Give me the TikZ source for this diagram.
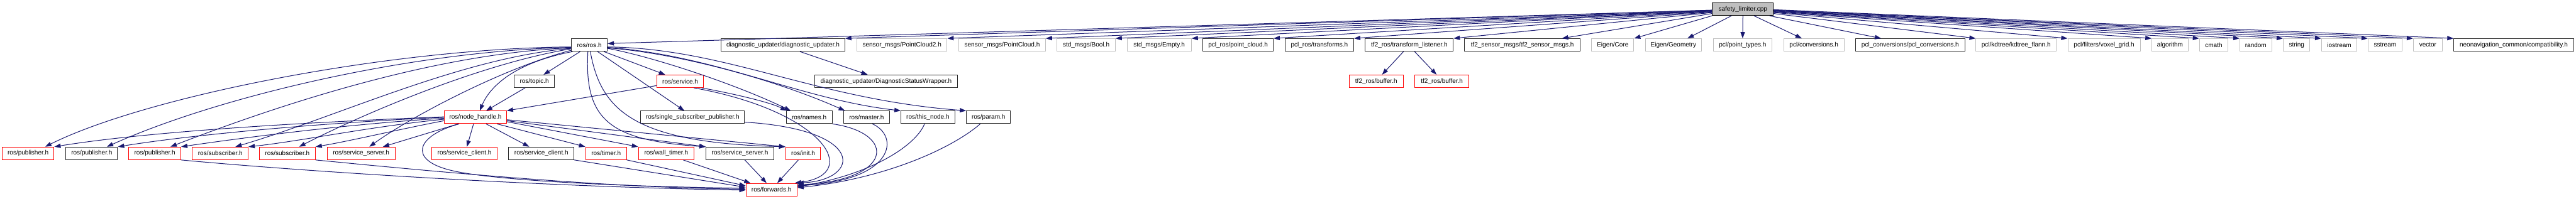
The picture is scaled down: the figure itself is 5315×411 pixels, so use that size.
\documentclass[tikz,border=0pt]{standalone}
\usepackage{fontspec}
\setmainfont{Liberation Sans}
\usetikzlibrary{arrows.meta,calc}
\definecolor{edgeblue}{HTML}{191970}
\definecolor{greyseventyfive}{HTML}{BFBFBF}
\newcommand\mknode[6]{\node[#1,minimum width=#2pt] (#3) at (#4,#5) {#6};}
\begin{document}
\begin{tikzpicture}[x=1pt,y=-1pt,
  box/.style={rectangle, line width=1.3pt, minimum height=26pt, inner sep=0pt, font=\fontsize{13}{15}\selectfont, fill=white},
  docbox/.style={box, draw=black!85},
  extbox/.style={box, draw=greyseventyfive},
  redbox/.style={box, draw=red},
  rootbox/.style={box, draw=black, fill=greyseventyfive},
  e/.style={draw=edgeblue, line width=1.3pt, -{Triangle[length=13pt,width=9pt]}},
]
\useasboundingbox (0,0) rectangle (5315,411);
% row 0
\mknode{rootbox}{126}{root}{3596}{19}{safety\_limiter.cpp}
% row 1
\mknode{docbox}{74}{rosh}{1216}{93}{ros/ros.h}
\mknode{docbox}{255}{diag}{1615.5}{93}{diagnostic\_updater/diagnostic\_updater.h}
\mknode{extbox}{186}{pctwo}{1861}{93}{sensor\_msgs/PointCloud2.h}
\mknode{extbox}{178.5}{pc}{2067.75}{93}{sensor\_msgs/PointCloud.h}
\mknode{extbox}{120}{boolh}{2241}{93}{std\_msgs/Bool.h}
\mknode{extbox}{132.5}{empty}{2391.75}{93}{std\_msgs/Empty.h}
\mknode{docbox}{145}{pclpc}{2554.5}{93}{pcl\_ros/point\_cloud.h}
\mknode{docbox}{141.5}{pcltf}{2722.25}{93}{pcl\_ros/transforms.h}
\mknode{docbox}{181.5}{tfl}{2907.75}{93}{tf2\_ros/transform\_listener.h}
\mknode{docbox}{238}{tftwosm}{3141}{93}{tf2\_sensor\_msgs/tf2\_sensor\_msgs.h}
\mknode{extbox}{87}{ecore}{3327.5}{93}{Eigen/Core}
\mknode{extbox}{116.5}{egeo}{3452.75}{93}{Eigen/Geometry}
\mknode{extbox}{121}{ptypes}{3595.5}{93}{pcl/point\_types.h}
\mknode{extbox}{125}{pconv}{3742.5}{93}{pcl/conversions.h}
\mknode{docbox}{225.5}{pclconv}{3941.25}{93}{pcl\_conversions/pcl\_conversions.h}
\mknode{extbox}{165.5}{kdtree}{4159.75}{93}{pcl/kdtree/kdtree\_flann.h}
\mknode{extbox}{149.5}{voxel}{4341.25}{93}{pcl/filters/voxel\_grid.h}
\mknode{extbox}{74.5}{algo}{4477.25}{93}{algorithm}
\mknode{extbox}{59}{cmathh}{4567.5}{93}{cmath}
\mknode{extbox}{65.5}{randomh}{4654.25}{93}{random}
\mknode{extbox}{55}{stringh}{4738.5}{93}{string}
\mknode{extbox}{73}{iostreamh}{4826.5}{93}{iostream}
\mknode{extbox}{70}{sstreamh}{4921}{93}{sstream}
\mknode{extbox}{59.5}{vectorh}{5009.25}{93}{vector}
\mknode{docbox}{247}{neo}{5186.5}{93}{neonavigation\_common/compatibility.h}
% row 2
\mknode{docbox}{83}{topic}{1102.5}{168}{ros/topic.h}
\mknode{redbox}{97}{service}{1403.5}{168}{ros/service.h}
\mknode{docbox}{294.5}{dsw}{1828.25}{168}{diagnostic\_updater/DiagnosticStatusWrapper.h}
\mknode{redbox}{111}{bufa}{2839.5}{168}{tf2\_ros/buffer.h}
\mknode{redbox}{111}{bufb}{2975}{168}{tf2\_ros/buffer.h}
% row 3
\mknode{redbox}{128}{nh}{981}{242.5}{ros/node\_handle.h}
\mknode{docbox}{214}{ssp}{1429}{242.5}{ros/single\_subscriber\_publisher.h}
\mknode{docbox}{95}{names}{1669.5}{242.5}{ros/names.h}
\mknode{docbox}{94}{master}{1788}{242.5}{ros/master.h}
\mknode{docbox}{111}{thisnode}{1914.5}{242.5}{ros/this\_node.h}
\mknode{docbox}{91}{param}{2039.5}{242.5}{ros/param.h}
% row 4
\mknode{redbox}{107}{pubA}{58}{317}{ros/publisher.h}
\mknode{docbox}{106.6}{pubB}{189.3}{317}{ros/publisher.h}
\mknode{redbox}{107}{pubC}{319.5}{317}{ros/publisher.h}
\mknode{redbox}{115}{subA}{454.5}{317}{ros/subscriber.h}
\mknode{redbox}{115.5}{subB}{592.75}{317}{ros/subscriber.h}
\mknode{redbox}{140}{ssA}{745}{317}{ros/service\_server.h}
\mknode{redbox}{134.7}{scA}{958.4}{317}{ros/service\_client.h}
\mknode{docbox}{134.6}{scB}{1117}{317}{ros/service\_client.h}
\mknode{redbox}{84.4}{timer}{1250.5}{317}{ros/timer.h}
\mknode{redbox}{114.7}{wtimer}{1374.6}{317}{ros/wall\_timer.h}
\mknode{docbox}{140}{ssB}{1526.7}{317}{ros/service\_server.h}
\mknode{redbox}{72.3}{init}{1657.2}{317}{ros/init.h}
% row 5
\mknode{redbox}{105.3}{fwd}{1591.7}{392}{ros/forwards.h}

% ---- edges from the root
\draw[e] ($(root.west)+(0,2)$) -- ($(rosh.east)+(0,-3)$);
\draw[e] ($(root.west)+(0,2)$) -- (diag.north east);
\draw[e] ($(root.west)+(0,3)$) -- (pctwo.north east);
\draw[e] ($(root.west)+(0,3)$) -- (pc.north east);
\draw[e] ($(root.west)+(0,4)$) -- (boolh.north east);
\draw[e] ($(root.west)+(0,4)$) -- (empty.north east);
\draw[e] ($(root.west)+(0,5)$) -- (pclpc.north east);
\draw[e] ($(root.west)+(0,6)$) -- (pcltf.north east);
\draw[e] ($(root.west)+(0,7)$) -- (tfl.north east);
\draw[e] ($(root.west)+(0,9)$) -- ($(tftwosm.north east)+(-38,0)$);
\draw[e] (root.south west) -- (ecore.north east);
\draw[e] ($(root.south west)+(40,0)$) -- ($(egeo.north east)+(-30,0)$);
\draw[e] (root.south) -- (ptypes.north);
\draw[e] ($(root.south)+(23,0)$) -- ($(pconv.north)+(-25,0)$);
\draw[e] ($(root.south)+(55,0)$) -- ($(pclconv.north)+(-60,0)$);
\draw[e] ($(root.east)+(0,9)$) -- (kdtree.north west);
\draw[e] ($(root.east)+(0,7)$) -- (voxel.north west);
\draw[e] ($(root.east)+(0,6)$) -- (algo.north west);
\draw[e] ($(root.east)+(0,5)$) -- (cmathh.north west);
\draw[e] ($(root.east)+(0,4)$) -- (randomh.north west);
\draw[e] ($(root.east)+(0,3)$) -- (stringh.north west);
\draw[e] ($(root.east)+(0,3)$) -- (iostreamh.north west);
\draw[e] ($(root.east)+(0,2)$) -- (sstreamh.north west);
\draw[e] ($(root.east)+(0,2)$) -- (vectorh.north west);
\draw[e] ($(root.east)+(0,1)$) -- (neo.north west);

% ---- second-level
\draw[e] ($(diag.south)+(35,0)$) -- ($(dsw.north)+(-38,0)$);
\draw[e] ($(tfl.south)+(-12,0)$) -- ($(bufa.north)+(12,0)$);
\draw[e] ($(tfl.south)+(11,0)$) -- ($(bufb.north)+(-11,0)$);

% ---- from ros/ros.h
\draw[e] ($(rosh.west)+(0,4)$) .. controls (800,100) and (300,200) .. ($(pubA.north east)+(-19,0)$);
\draw[e] ($(rosh.west)+(0,5)$) .. controls (850,105) and (450,200) .. ($(pubB.north east)+(-22.6,0)$);
\draw[e] ($(rosh.west)+(0,6)$) .. controls (900,110) and (580,215) .. ($(pubC.north east)+(-22,0)$);
\draw[e] ($(rosh.west)+(0,7)$) .. controls (950,120) and (700,240) .. ($(subA.north east)+(-27,0)$);
\draw[e] ($(rosh.west)+(0,8)$) .. controls (1000,130) and (760,230) .. ($(subB.north east)+(-34,0)$);
\draw[e] ($(rosh.west)+(0,11)$) .. controls (1040,140) and (850,240) .. ($(ssA.north)+(17,0)$);
\draw[e] ($(rosh.south west)+(3,0)$) .. controls (1060,130) and (1010,180) .. ($(nh.north)+(9,0)$);
\draw[e] ($(rosh.south)+(-19,0)$) -- ($(topic.north)+(19,0)$);
\draw[e] ($(rosh.south)+(30,0)$) -- ($(service.north)+(-31,0)$);
\draw[e] ($(rosh.south)+(17,0)$) -- ($(ssp.north)+(-17,0)$);
\draw[e] ($(rosh.east)+(0,7)$) .. controls (1350,118) and (1520,175) .. ($(names.north west)+(10,0)$);
\draw[e] ($(rosh.east)+(0,6)$) .. controls (1400,110) and (1600,165) .. ($(master.north west)+(3,0)$);
\draw[e] ($(rosh.east)+(0,5)$) .. controls (1480,115) and (1650,205) .. (thisnode.north west);
\draw[e] ($(rosh.east)+(0,4)$) .. controls (1500,100) and (1680,205) .. (param.north west);
\draw[e] ($(rosh.south)+(-3,0)$) .. controls (1205,250) and (1260,290) .. (ssB.north west);
\draw[e] ($(rosh.south)+(2,0)$) .. controls (1240,230) and (1310,295) .. (init.north west);

% ---- ros/topic.h, ros/service.h
\draw[e] ($(topic.south)+(-19,0)$) -- ($(nh.north)+(22,0)$);
\draw[e] ($(service.west)+(0,9)$) -- (nh.north east);
\draw[e] ($(service.south east)+(-5,0)$) .. controls (1520,195) and (1590,212) .. ($(names.north west)+(2,0)$);
\draw[e] ($(service.south east)+(-21,0)$) .. controls (1700,230) and (1780,360) .. ($(fwd.north east)+(-5,0)$);

% ---- from ros/node_handle.h
\draw[e] ($(nh.west)+(0,-1)$) .. controls (700,250) and (330,268) .. (pubA.north east);
\draw[e] (nh.west) .. controls (700,252) and (420,275) .. (pubB.north east);
\draw[e] ($(nh.west)+(0,2)$) .. controls (720,256) and (500,285) .. (pubC.north east);
\draw[e] ($(nh.west)+(0,4)$) .. controls (760,262) and (620,292) .. (subA.north east);
\draw[e] ($(nh.west)+(0,7)$) .. controls (820,268) and (720,292) .. (subB.north east);
\draw[e] ($(nh.south west)+(29,0)$) -- ($(ssA.north)+(45,0)$);
\draw[e] ($(nh.south)+(-4,0)$) -- ($(scA.north)+(5,0)$);
\draw[e] ($(nh.south)+(22,0)$) -- ($(scB.north)+(-25,0)$);
\draw[e] ($(nh.south east)+(-20,0)$) -- (timer.north west);
\draw[e] ($(nh.east)+(0,9)$) -- (wtimer.north west);
\draw[e] ($(nh.east)+(0,7)$) -- (ssB.north west);
\draw[e] ($(nh.east)+(0,5)$) -- (init.north west);
\draw[e] ($(nh.south west)+(31,0)$) .. controls (860,280) and (840,330) .. (930,352)
   .. controls (1020,374) and (1300,386) .. ($(fwd.west)+(0,-3)$);

% ---- into ros/forwards.h
\draw[e] (pubC.south east) .. controls (600,352) and (1100,386) .. ($(fwd.west)+(0,1)$);
\draw[e] (subB.south east) .. controls (900,355) and (1250,388) .. ($(fwd.west)+(0,-1)$);
\draw[e] (scB.south east) -- ($(fwd.west)+(0,-5)$);
\draw[e] (timer.south east) -- ($(fwd.west)+(0,-8)$);
\draw[e] ($(wtimer.south)+(35,0)$) -- ($(fwd.north west)+(10,0)$);
\draw[e] ($(ssB.south)+(10,0)$) -- ($(fwd.north)+(-10,0)$);
\draw[e] ($(init.south)+(-10,0)$) -- ($(fwd.north)+(12,0)$);
\draw[e] ($(ssp.east)+(0,10)$) .. controls (1790,268) and (1775,372) .. (fwd.north east);
\draw[e] (names.south east) .. controls (1850,275) and (1845,372) .. ($(fwd.east)+(0,-10)$);
\draw[e] ($(master.south)+(12,0)$) .. controls (1855,280) and (1850,372) .. ($(fwd.east)+(0,-8)$);
\draw[e] ($(thisnode.south)+(-7,0)$) .. controls (1890,300) and (1800,360) .. ($(fwd.east)+(0,-6)$);
\draw[e] ($(param.south)+(-17,0)$) .. controls (1960,310) and (1820,370) .. ($(fwd.east)+(0,-4)$);
\end{tikzpicture}
\end{document}
